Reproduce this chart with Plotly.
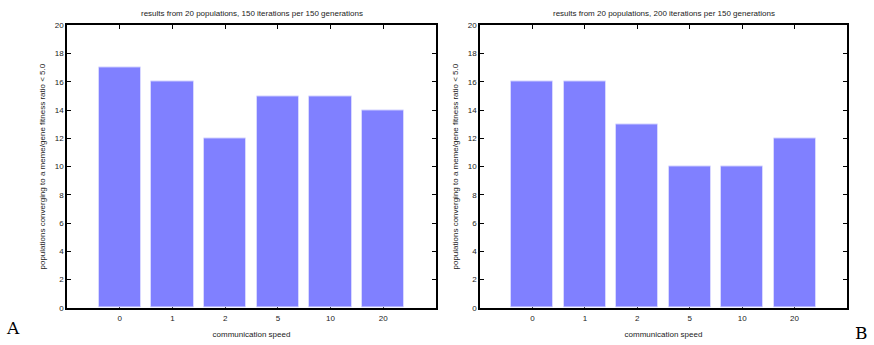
import plotly.graph_objects as go

categories = ["0", "1", "2", "5", "10", "20"]
values_a = [17, 16, 12, 15, 15, 14]
values_b = [16, 16, 13, 10, 10, 12]
title_a = "results from 20 populations, 150 iterations per 150 generations"
title_b = "results from 20 populations, 200 iterations per 150 generations"
y_title = "populations converging to a meme/gene fitness ratio < 5.0"
x_title = "communication speed"
y_ticks = [0, 2, 4, 6, 8, 10, 12, 14, 16, 18, 20]

W, H = 874, 345
positions = list(range(1, len(categories) + 1))

fig = go.Figure()
for vals, xa, ya in [(values_a, "x", "y"), (values_b, "x2", "y2")]:
    fig.add_trace(go.Bar(
        x=positions, y=vals, xaxis=xa, yaxis=ya, width=0.8,
        marker=dict(color="#8080ff", line=dict(color="#d8d8ff", width=1)),
        showlegend=False,
    ))

font = dict(family="Liberation Sans, Arial, sans-serif", size=8, color="#222")
ydom = [(H - 312) / H, (H - 22) / H]

def xaxis(dom):
    return dict(domain=dom, range=[0, 7], tickvals=positions, ticktext=categories,
                ticks="inside", ticklen=4, tickcolor="black", mirror="ticks",
                showline=True, linecolor="black", linewidth=1.5, showgrid=False,
                zeroline=False, tickfont=font, layer="below traces",
                ticklabelstandoff=2,
                title=dict(text=x_title, font=font, standoff=9))

def yaxis(anchor):
    return dict(domain=ydom, range=[0, 20], tickvals=y_ticks, anchor=anchor,
                ticks="inside", ticklen=4, tickcolor="black", mirror="ticks",
                showline=True, linecolor="black", linewidth=1.5, showgrid=False,
                zeroline=False, tickfont=font,
                title=dict(text=y_title, font=font, standoff=8))

fig.update_layout(
    width=W, height=H, margin=dict(l=0, r=0, t=0, b=0),
    paper_bgcolor="white", plot_bgcolor="white",
    bargap=0,
    xaxis=xaxis([67 / W, 436 / W]),
    yaxis=yaxis("x"),
    xaxis2=dict(xaxis([480 / W, 847 / W]), anchor="y2"),
    yaxis2=yaxis("x2"),
    annotations=[
        dict(text=title_a, x=(67 + 436) / 2 / W, y=(H - 10) / H, xref="paper", yref="paper",
             showarrow=False, font=font, xanchor="center", yanchor="middle"),
        dict(text=title_b, x=(480 + 847) / 2 / W, y=(H - 10) / H, xref="paper", yref="paper",
             showarrow=False, font=font, xanchor="center", yanchor="middle"),
        dict(text="A", x=4 / W, y=(H - 333) / H, xref="paper", yref="paper", showarrow=False,
             font=dict(family="DejaVu Serif, Liberation Serif, serif", size=17, color="black"),
             xanchor="left", yanchor="middle"),
        dict(text="B", x=870 / W, y=(H - 338) / H, xref="paper", yref="paper", showarrow=False,
             font=dict(family="DejaVu Serif, Liberation Serif, serif", size=17, color="black"),
             xanchor="right", yanchor="middle"),
    ],
)
fig.write_html("out.html")
